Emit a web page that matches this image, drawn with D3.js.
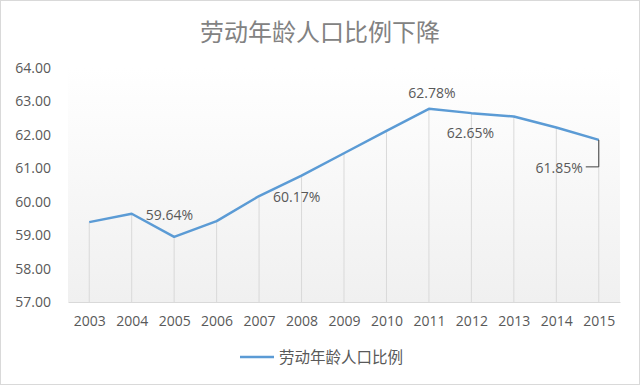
<!DOCTYPE html>
<html>
<head>
<meta charset="utf-8">
<script src="https://cdn.jsdelivr.net/npm/d3@7"></script>
<style>
  body { margin: 0; background: #fff; }
  svg { display: block; font-family: "Noto Sans CJK SC", "Noto Sans", sans-serif; }
</style>
</head>
<body>
<div id="chart"></div>
<script>
const years = ['2003', '2004', '2005', '2006', '2007', '2008', '2009', '2010', '2011', '2012', '2013', '2014', '2015'];
const ratio = [59.39, 59.64, 58.95, 59.42, 60.17, 60.78, 61.45, 62.12, 62.78, 62.65, 62.55, 62.22, 61.85];
const yTicks = [57, 58, 59, 60, 61, 62, 63, 64];
// which points carry a label, and where it sits
const labelled = [
    { year: '2004', pos: 'right' },
    { year: '2007', pos: 'right' },
    { year: '2011', pos: 'above' },
    { year: '2012', pos: 'below' },
    { year: '2015', pos: 'leader' }
];
const seriesName = '劳动年龄人口比例';
const title = '劳动年龄人口比例下降';

const width = 640, height = 385;
const margin = { top: 68, right: 20, bottom: 83, left: 68 };
const numFont = '"Open Sans", "Noto Sans", sans-serif';

const svg = d3.select('#chart').append('svg')
    .attr('width', width)
    .attr('height', height);

const defs = svg.append('defs');
const grad = defs.append('linearGradient')
    .attr('id', 'plotBg')
    .attr('x1', 0).attr('y1', 0).attr('x2', 0).attr('y2', 1);
grad.append('stop').attr('offset', '0%').attr('stop-color', '#ffffff');
grad.append('stop').attr('offset', '100%').attr('stop-color', '#f0f0f0');

// outer border
svg.append('rect')
    .attr('x', 0.5).attr('y', 0.5)
    .attr('width', width - 1).attr('height', height - 1)
    .attr('fill', '#fff')
    .attr('stroke', '#d9d9d9');

const x = d3.scalePoint()
    .domain(years)
    .range([margin.left, width - margin.right])
    .padding(0.5);

const y = d3.scaleLinear()
    .domain([57, 64])
    .range([height - margin.bottom, margin.top]);

svg.append('rect')
    .attr('x', margin.left)
    .attr('y', y(64))
    .attr('width', width - margin.left - margin.right)
    .attr('height', y(57) - y(64))
    .attr('fill', 'url(#plotBg)');

// title
svg.append('text')
    .attr('x', width / 2)
    .attr('y', 41)
    .attr('text-anchor', 'middle')
    .style('font-size', '24px')
    .style('fill', '#828282')
    .text(title);

// y axis labels
const yAxis = svg.append('g')
    .attr('transform', `translate(${margin.left - 17},0)`)
    .call(d3.axisLeft(y).tickValues(yTicks).tickFormat(d3.format('.2f')).tickSize(0));
yAxis.select('.domain').remove();
yAxis.selectAll('text')
    .attr('x', 0)
    .style('font-size', '14px')
    .style('fill', '#595959')
    .style('font-family', numFont);

// x axis
const xAxis = svg.append('g')
    .attr('transform', `translate(0,${y(57)})`)
    .call(d3.axisBottom(x).tickSize(0).tickPadding(14));
xAxis.select('.domain')
    .attr('stroke', '#d9d9d9');
xAxis.selectAll('text')
    .style('font-size', '14px')
    .style('fill', '#595959')
    .style('font-family', numFont);

const data = years.map((yr, i) => ({ year: yr, value: ratio[i] }));

// drop lines
svg.append('g')
    .selectAll('line')
    .data(data)
    .join('line')
    .attr('x1', d => x(d.year))
    .attr('x2', d => x(d.year))
    .attr('y1', d => y(d.value))
    .attr('y2', y(57))
    .attr('stroke', '#d9d9d9')
    .attr('stroke-width', 1);

const line = d3.line()
    .x(d => x(d.year))
    .y(d => y(d.value));

svg.append('path')
    .datum(data)
    .attr('d', line)
    .attr('fill', 'none')
    .attr('stroke', '#5b9bd5')
    .attr('stroke-width', 2.5)
    .attr('stroke-linejoin', 'round');

// data labels
const fmt = d => d3.format('.2f')(d) + '%';
const labelG = svg.append('g')
    .style('font-size', '14px')
    .style('fill', '#595959')
    .style('font-family', numFont);

labelled.forEach(function (l) {
    const d = data.find(p => p.year === l.year);
    const px = x(d.year), py = y(d.value);
    const t = labelG.append('text').text(fmt(d.value));
    if (l.pos === 'right') {
        t.attr('x', px + 14).attr('y', py + 6);
    } else if (l.pos === 'above') {
        t.attr('x', px + 3).attr('y', py - 11).attr('text-anchor', 'middle');
    } else if (l.pos === 'below') {
        t.attr('x', px - 1).attr('y', py + 25).attr('text-anchor', 'middle');
    } else if (l.pos === 'leader') {
        t.attr('x', px - 16).attr('y', py + 33).attr('text-anchor', 'end');
        svg.append('path')
            .attr('d', `M${px - 13},${py + 27}H${px}V${py}`)
            .attr('fill', 'none')
            .attr('stroke', '#404040')
            .attr('stroke-width', 1);
    }
});

// legend
const legend = svg.append('g')
    .attr('transform', `translate(240,357)`);
legend.append('line')
    .attr('x1', 0).attr('x2', 34)
    .attr('y1', 0).attr('y2', 0)
    .attr('stroke', '#5b9bd5')
    .attr('stroke-width', 2.5);
legend.append('text')
    .attr('x', 39)
    .attr('y', 5.5)
    .style('font-size', '15.5px')
    .style('fill', '#595959')
    .text(seriesName);
</script>
</body>
</html>
